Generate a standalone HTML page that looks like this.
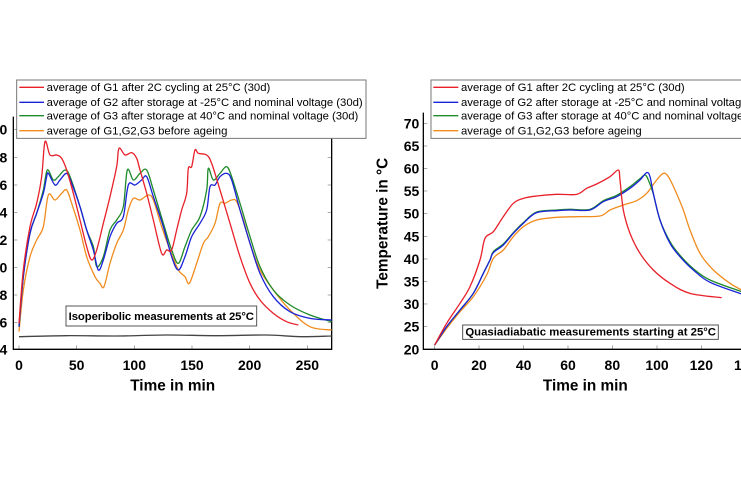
<!DOCTYPE html>
<html><head><meta charset="utf-8"><style>
html,body{margin:0;padding:0;background:#fff;width:741px;height:486px;overflow:hidden}
svg{display:block}
text{font-family:"Liberation Sans",Arial,sans-serif}
.ln{fill:none;stroke-width:1.3;vector-effect:non-scaling-stroke;stroke-linejoin:round}
.ax{fill:none;stroke:#000;stroke-width:1.3;vector-effect:non-scaling-stroke}
.tk{stroke:#000;stroke-width:1;vector-effect:non-scaling-stroke}
.lb{font-size:42px;font-weight:bold}
.lg{font-size:34px}
</style></head><body>
<svg width="741" height="486" viewBox="0 0 741 486">
<rect width="741" height="486" fill="#fff"/>
<!-- LEFT -->
<g transform="translate(0,70) scale(0.33333)">
<polyline class="ax" points="40,140 40,838 995,838 995,140"/>
<g class="tk">
<line x1="40" y1="178" x2="52" y2="178"/><line x1="40" y1="262" x2="52" y2="262"/><line x1="40" y1="345" x2="52" y2="345"/><line x1="40" y1="428" x2="52" y2="428"/><line x1="40" y1="510" x2="52" y2="510"/><line x1="40" y1="592" x2="52" y2="592"/><line x1="40" y1="675" x2="52" y2="675"/><line x1="40" y1="757" x2="52" y2="757"/>
<line x1="995" y1="178" x2="983" y2="178"/><line x1="995" y1="262" x2="983" y2="262"/><line x1="995" y1="345" x2="983" y2="345"/><line x1="995" y1="428" x2="983" y2="428"/><line x1="995" y1="510" x2="983" y2="510"/><line x1="995" y1="592" x2="983" y2="592"/><line x1="995" y1="675" x2="983" y2="675"/><line x1="995" y1="757" x2="983" y2="757"/>
<line x1="57" y1="838" x2="57" y2="826"/><line x1="230" y1="838" x2="230" y2="826"/><line x1="403" y1="838" x2="403" y2="826"/><line x1="576" y1="838" x2="576" y2="826"/><line x1="749" y1="838" x2="749" y2="826"/><line x1="922" y1="838" x2="922" y2="826"/>
</g>
<g class="lb" text-anchor="end">
<text x="22" y="193">30</text><text x="22" y="277">28</text><text x="22" y="360">26</text><text x="22" y="443">34</text><text x="22" y="525">32</text><text x="22" y="607">30</text><text x="22" y="690">28</text><text x="22" y="772">26</text><text x="22" y="853">24</text>
</g>
<g class="lb" text-anchor="middle">
<text x="57" y="900">0</text><text x="230" y="900">50</text><text x="403" y="900">100</text><text x="576" y="900">150</text><text x="749" y="900">200</text><text x="922" y="900">250</text>
<text x="518" y="962" font-size="46">Time in min</text>
</g>
<polyline class="ln" stroke="#444" points="57,800 200,797 350,798 500,795 650,797 800,795 900,800 995,798"/>
<polyline class="ln" stroke="#f08c1e" points="57,785 70,660 90,560 110,510 130,470 145,375 165,390 185,370 200,360 215,400 240,480 260,560 285,620 300,640 312,650 330,580 350,520 370,480 385,420 400,385 420,390 445,375 460,390 485,470 510,540 535,600 555,620 568,640 590,580 610,520 625,500 645,460 660,400 675,400 695,390 710,395 730,450 750,520 780,600 820,660 870,720 930,770 995,780"/>
<polyline class="ln" stroke="#1e8a2a" points="57,770 70,620 90,490 110,430 130,360 142,300 160,330 175,320 195,300 210,320 240,410 260,480 280,530 290,590 310,560 330,480 350,450 370,410 382,300 400,330 420,310 440,300 460,360 490,460 515,540 535,580 555,530 575,480 600,440 620,360 625,295 640,330 660,310 680,290 695,320 720,400 750,500 780,590 820,660 870,705 930,735 995,755"/>
<polyline class="ln" stroke="#1a22d8" points="57,770 70,620 90,490 110,430 130,370 140,320 145,310 165,345 180,330 200,310 215,340 240,410 260,480 280,540 295,600 310,570 330,500 350,460 370,440 385,345 405,345 425,330 440,320 460,380 490,470 515,560 535,600 555,560 575,500 600,460 620,420 630,350 645,345 660,320 680,310 695,330 720,420 750,520 780,610 820,680 870,725 930,745 995,750"/>
<polyline class="ln" stroke="#e8202a" points="57,760 70,600 90,470 110,400 125,320 135,215 150,255 170,255 185,265 200,300 220,370 240,450 260,530 275,570 290,540 310,460 330,380 350,290 357,235 375,255 395,248 410,265 420,300 440,370 460,450 485,550 500,540 515,540 530,480 545,420 560,370 565,295 575,290 585,240 595,250 620,255 635,280 660,360 690,460 720,560 750,640 780,690 820,730 860,755 895,765"/>
<rect x="198" y="708" width="572" height="60" fill="#fff" stroke="#555" stroke-width="1" vector-effect="non-scaling-stroke"/>
<text x="206" y="750" font-size="34" font-weight="bold" textLength="556">Isoperibolic measurements at 25°C</text>
<rect x="50" y="30" width="1048" height="175" fill="#fff" stroke="#777" stroke-width="1" vector-effect="non-scaling-stroke"/>
<g class="lg">
<line class="ln" stroke="#e8202a" x1="58" y1="52" x2="132" y2="52"/><text x="140" y="63">average of G1 after 2C cycling at 25°C (30d)</text>
<line class="ln" stroke="#1a22d8" x1="58" y1="97" x2="132" y2="97"/><text x="140" y="108" textLength="948">average of G2 after storage at -25°C and nominal voltage (30d)</text>
<line class="ln" stroke="#1e8a2a" x1="58" y1="137" x2="132" y2="137"/><text x="140" y="148" textLength="935">average of G3 after storage at 40°C and nominal voltage (30d)</text>
<line class="ln" stroke="#f08c1e" x1="58" y1="182" x2="132" y2="182"/><text x="140" y="193">average of G1,G2,G3 before ageing</text>
</g>
</g>
<!-- RIGHT -->
<g transform="translate(370,70) scale(0.33333)">
<polyline class="ax" points="160,128 160,838 1120,838"/>
<g class="tk">
<line x1="160" y1="160" x2="172" y2="160"/><line x1="160" y1="228" x2="172" y2="228"/><line x1="160" y1="296" x2="172" y2="296"/><line x1="160" y1="363" x2="172" y2="363"/><line x1="160" y1="431" x2="172" y2="431"/><line x1="160" y1="499" x2="172" y2="499"/><line x1="160" y1="567" x2="172" y2="567"/><line x1="160" y1="635" x2="172" y2="635"/><line x1="160" y1="702" x2="172" y2="702"/><line x1="160" y1="770" x2="172" y2="770"/>
<line x1="194" y1="838" x2="194" y2="826"/><line x1="327" y1="838" x2="327" y2="826"/><line x1="461" y1="838" x2="461" y2="826"/><line x1="594" y1="838" x2="594" y2="826"/><line x1="727" y1="838" x2="727" y2="826"/><line x1="861" y1="838" x2="861" y2="826"/><line x1="994" y1="838" x2="994" y2="826"/>
</g>
<g class="lb" text-anchor="end">
<text x="148" y="175">70</text><text x="148" y="243">65</text><text x="148" y="311">60</text><text x="148" y="378">55</text><text x="148" y="446">50</text><text x="148" y="514">45</text><text x="148" y="582">40</text><text x="148" y="650">35</text><text x="148" y="717">30</text><text x="148" y="785">25</text><text x="148" y="853">20</text>
</g>
<g class="lb" text-anchor="middle">
<text x="194" y="900">0</text><text x="327" y="900">20</text><text x="461" y="900">40</text><text x="594" y="900">60</text><text x="727" y="900">80</text><text x="861" y="900">100</text><text x="994" y="900">120</text><text x="1127" y="900">140</text>
<text x="646" y="962" font-size="46">Time in min</text>
<text transform="translate(52,460) rotate(-90)" font-size="46">Temperature in °C</text>
</g>
<polyline class="ln" stroke="#f08c1e" points="194,825 230,775 270,725 310,680 350,615 370,565 400,540 430,500 460,470 500,450 560,442 620,440 690,438 720,420 760,405 800,392 830,370 860,330 880,310 895,320 915,360 940,420 960,480 990,550 1030,600 1080,640 1115,660"/>
<polyline class="ln" stroke="#1e8a2a" points="194,825 230,770 270,720 310,670 340,610 360,570 370,545 400,522 430,488 460,458 500,426 560,420 600,418 660,418 700,392 740,376 780,350 810,326 825,315 835,330 850,372 870,450 900,515 930,556 970,596 1020,630 1115,665"/>
<polyline class="ln" stroke="#1a22d8" points="194,825 230,770 270,720 310,670 340,610 360,570 370,548 400,525 430,490 460,460 500,428 560,422 600,420 660,420 700,395 740,380 780,355 810,330 830,308 840,320 850,370 870,450 900,520 930,560 970,600 1020,637 1115,672"/>
<polyline class="ln" stroke="#e8202a" points="194,825 230,760 270,700 300,650 330,570 345,505 370,485 400,440 430,400 460,385 500,378 560,373 620,373 650,355 680,342 720,320 745,300 750,330 760,420 780,490 810,550 850,600 900,640 960,670 1055,683"/>
<rect x="278" y="765" width="767" height="43" fill="#fff" stroke="#555" stroke-width="1" vector-effect="non-scaling-stroke"/>
<text x="286" y="797" font-size="34" font-weight="bold" textLength="752">Quasiadiabatic measurements starting at 25°C</text>
<rect x="183" y="30" width="1000" height="175" fill="#fff" stroke="#777" stroke-width="1" vector-effect="non-scaling-stroke"/>
<g class="lg">
<line class="ln" stroke="#e8202a" x1="190" y1="52" x2="265" y2="52"/><text x="273" y="63">average of G1 after 2C cycling at 25°C (30d)</text>
<line class="ln" stroke="#1a22d8" x1="190" y1="97" x2="265" y2="97"/><text x="273" y="108" textLength="948">average of G2 after storage at -25°C and nominal voltage (30d)</text>
<line class="ln" stroke="#1e8a2a" x1="190" y1="137" x2="265" y2="137"/><text x="273" y="148" textLength="935">average of G3 after storage at 40°C and nominal voltage (30d)</text>
<line class="ln" stroke="#f08c1e" x1="190" y1="182" x2="265" y2="182"/><text x="273" y="193">average of G1,G2,G3 before ageing</text>
</g>
</g>
</svg>
<script>
document.querySelectorAll('polyline.ln').forEach(function(pl){
  var p=pl.getAttribute('points').trim().split(/\s+/).map(function(s){return s.split(',').map(Number);});
  if(p.length<3)return;
  var d='M'+p[0][0]+','+p[0][1];
  for(var i=0;i<p.length-1;i++){
    var p0=p[i-1]||p[i],p1=p[i],p2=p[i+1],p3=p[i+2]||p2;
    var c1x=p1[0]+(p2[0]-p0[0])/6,c1y=p1[1]+(p2[1]-p0[1])/6;
    var c2x=p2[0]-(p3[0]-p1[0])/6,c2y=p2[1]-(p3[1]-p1[1])/6;
    d+=' C'+c1x+','+c1y+' '+c2x+','+c2y+' '+p2[0]+','+p2[1];
  }
  var path=document.createElementNS('http://www.w3.org/2000/svg','path');
  path.setAttribute('d',d);path.setAttribute('class','ln');path.setAttribute('stroke',pl.getAttribute('stroke'));
  pl.parentNode.replaceChild(path,pl);
});
</script>
</body></html>
